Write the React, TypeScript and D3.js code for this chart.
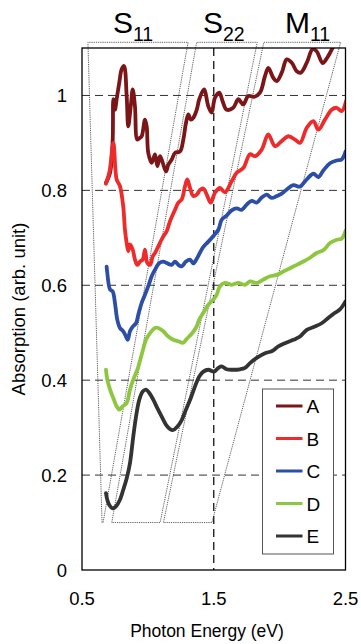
import React from "react";
import * as d3 from "d3";

const W = 361;
const H = 644;
const PLOT = { left: 82, right: 345.5, top: 48, bottom: 570 };

const xDomain: [number, number] = [0.5, 2.5];
const yDomain: [number, number] = [0, 1.1];
const xTicks = [0.5, 1.5, 2.5];
const yTicks = [0, 0.2, 0.4, 0.6, 0.8, 1];
const yGrid = [0.2, 0.4, 0.6, 0.8, 1.0];
const xGrid = [1.5];

const seriesNames = ["A", "B", "C", "D", "E"];
const seriesColors = ["#7b1518", "#ee2b2b", "#2c4ea6", "#8dc63f", "#333333"];

const seriesA: [number, number][] = [
  [0.682, 0.816], [0.713, 0.837], [0.733, 0.907], [0.738, 0.992], [0.75, 0.97],
  [0.763, 0.992], [0.783, 1.027], [0.801, 1.055], [0.819, 1.062], [0.839, 0.999],
  [0.851, 0.935], [0.87, 0.977], [0.885, 1.013], [0.902, 0.977], [0.92, 0.907],
  [0.94, 0.911], [0.953, 0.914], [0.978, 0.949], [0.991, 0.935], [1.003, 0.879],
  [1.029, 0.858], [1.054, 0.876], [1.072, 0.851], [1.092, 0.872], [1.113, 0.858],
  [1.138, 0.84], [1.155, 0.854], [1.181, 0.865], [1.206, 0.879], [1.244, 0.882],
  [1.269, 0.907], [1.289, 0.942], [1.307, 0.96], [1.325, 0.949], [1.345, 0.953],
  [1.371, 0.97], [1.39, 0.992], [1.426, 1.013], [1.459, 0.977], [1.484, 0.964],
  [1.509, 0.995], [1.542, 1.006], [1.568, 0.987], [1.598, 0.97], [1.648, 0.974],
  [1.686, 0.992], [1.724, 0.981], [1.762, 0.999], [1.806, 0.997], [1.851, 1.006],
  [1.889, 1.041], [1.914, 1.058], [1.952, 1.037], [1.978, 1.03], [2.016, 1.048],
  [2.054, 1.076], [2.092, 1.069], [2.13, 1.051], [2.16, 1.048], [2.206, 1.069],
  [2.251, 1.098], [2.281, 1.093], [2.327, 1.068], [2.362, 1.08], [2.403, 1.101],
  [2.443, 1.125],
];

const seriesB: [number, number][] = [
  [0.682, 0.814], [0.709, 0.84], [0.738, 0.9], [0.763, 0.823], [0.788, 0.809],
  [0.813, 0.766], [0.826, 0.717], [0.839, 0.689], [0.851, 0.672], [0.864, 0.686],
  [0.885, 0.675], [0.902, 0.654], [0.92, 0.643], [0.94, 0.65], [0.961, 0.654],
  [0.978, 0.675], [0.996, 0.647], [1.016, 0.643], [1.037, 0.661], [1.054, 0.668],
  [1.079, 0.682], [1.117, 0.703], [1.143, 0.714], [1.168, 0.735], [1.206, 0.759],
  [1.231, 0.774], [1.257, 0.781], [1.282, 0.809], [1.299, 0.823], [1.32, 0.805],
  [1.345, 0.788], [1.371, 0.791], [1.396, 0.801], [1.421, 0.804], [1.447, 0.791],
  [1.477, 0.774], [1.509, 0.795], [1.547, 0.805], [1.585, 0.796], [1.636, 0.819],
  [1.674, 0.837], [1.724, 0.847], [1.775, 0.876], [1.813, 0.872], [1.864, 0.886],
  [1.914, 0.918], [1.965, 0.893], [2.016, 0.904], [2.066, 0.914], [2.117, 0.907],
  [2.155, 0.9], [2.206, 0.932], [2.256, 0.946], [2.294, 0.928], [2.344, 0.949],
  [2.395, 0.97], [2.433, 0.974], [2.471, 0.967], [2.504, 0.988],
];

const seriesC: [number, number][] = [
  [0.687, 0.639], [0.692, 0.626], [0.713, 0.591], [0.733, 0.587], [0.75, 0.563],
  [0.768, 0.527], [0.788, 0.51], [0.813, 0.503], [0.834, 0.492], [0.847, 0.485],
  [0.864, 0.503], [0.885, 0.513], [0.91, 0.52], [0.927, 0.538], [0.953, 0.563],
  [0.978, 0.58], [1.003, 0.598], [1.029, 0.619], [1.054, 0.633], [1.087, 0.647],
  [1.117, 0.65], [1.143, 0.647], [1.181, 0.643], [1.206, 0.65], [1.231, 0.643],
  [1.257, 0.64], [1.289, 0.65], [1.32, 0.654], [1.345, 0.646], [1.371, 0.656],
  [1.396, 0.669], [1.421, 0.681], [1.459, 0.692], [1.497, 0.704], [1.535, 0.717],
  [1.56, 0.738], [1.598, 0.747], [1.636, 0.758], [1.674, 0.762], [1.712, 0.759],
  [1.75, 0.77], [1.788, 0.778], [1.826, 0.774], [1.864, 0.785], [1.902, 0.791],
  [1.94, 0.784], [1.978, 0.788], [2.016, 0.793], [2.054, 0.802], [2.104, 0.811],
  [2.155, 0.808], [2.193, 0.819], [2.256, 0.835], [2.294, 0.828], [2.332, 0.842],
  [2.382, 0.857], [2.433, 0.863], [2.471, 0.865], [2.501, 0.882],
];

const seriesD: [number, number][] = [
  [0.682, 0.422], [0.692, 0.401], [0.713, 0.38], [0.738, 0.362], [0.763, 0.345],
  [0.783, 0.338], [0.809, 0.345], [0.839, 0.352], [0.864, 0.38], [0.889, 0.401],
  [0.92, 0.422], [0.953, 0.454], [0.986, 0.485], [1.016, 0.499], [1.054, 0.51],
  [1.079, 0.51], [1.117, 0.503], [1.155, 0.492], [1.193, 0.485], [1.231, 0.482],
  [1.269, 0.479], [1.295, 0.487], [1.333, 0.498], [1.366, 0.511], [1.389, 0.527],
  [1.421, 0.542], [1.459, 0.559], [1.497, 0.57], [1.522, 0.58], [1.547, 0.598],
  [1.585, 0.605], [1.636, 0.601], [1.686, 0.605], [1.737, 0.601], [1.775, 0.608],
  [1.828, 0.605], [1.876, 0.612], [1.927, 0.619], [1.978, 0.622], [2.028, 0.629],
  [2.079, 0.636], [2.13, 0.643], [2.18, 0.65], [2.231, 0.658], [2.281, 0.668],
  [2.332, 0.674], [2.382, 0.689], [2.433, 0.696], [2.471, 0.698], [2.501, 0.715],
];

const seriesE: [number, number][] = [
  [0.682, 0.162], [0.692, 0.148], [0.707, 0.137], [0.733, 0.13], [0.758, 0.134],
  [0.788, 0.148], [0.813, 0.169], [0.839, 0.193], [0.864, 0.225], [0.889, 0.281],
  [0.91, 0.323], [0.935, 0.359], [0.961, 0.376], [0.986, 0.38], [1.011, 0.373],
  [1.041, 0.359], [1.072, 0.341], [1.105, 0.323], [1.138, 0.306], [1.168, 0.297],
  [1.193, 0.295], [1.223, 0.302], [1.257, 0.316], [1.289, 0.338], [1.325, 0.362],
  [1.358, 0.387], [1.39, 0.408], [1.421, 0.418], [1.459, 0.422], [1.502, 0.418],
  [1.535, 0.426], [1.56, 0.429], [1.598, 0.423], [1.648, 0.422], [1.699, 0.423],
  [1.737, 0.426], [1.775, 0.436], [1.826, 0.447], [1.889, 0.457], [1.94, 0.461],
  [1.99, 0.471], [2.041, 0.478], [2.104, 0.485], [2.155, 0.492], [2.206, 0.506],
  [2.268, 0.513], [2.319, 0.52], [2.369, 0.531], [2.42, 0.542], [2.458, 0.549],
  [2.5, 0.566],
];

const allSeries = [seriesA, seriesB, seriesC, seriesD, seriesE];

// transition brackets (energy ranges)
const bracketMain = ["S", "S", "M"];
const bracketSub = ["11", "22", "11"];
const bracketLabelX = [0.735, 1.418, 2.04];
const bracketTop: [number, number][] = [[0.545, 1.305], [1.37, 1.83], [1.88, 2.463]];
const bracketBottom: [number, number][] = [[0.652, 0.66], [0.726, 1.093], [1.118, 1.486]];
const bracketTopY = 1.112;
const bracketBottomY = 0.1;

const FONT = "'Liberation Sans', Arial, Helvetica, sans-serif";

export default function App() {
  const x = d3.scaleLinear().domain(xDomain).range([PLOT.left, PLOT.right]);
  const y = d3.scaleLinear().domain(yDomain).range([PLOT.bottom, PLOT.top]);
  const line = d3
    .line<[number, number]>()
    .x((d) => x(d[0]))
    .y((d) => y(d[1]))
    .curve(d3.curveCatmullRom.alpha(0.5));

  const legendX = 262.5;
  const legendY = 389;
  const legendW = 71;
  const legendH = 165;
  const legendStep = 32.5;

  return (
    <svg
      width={W}
      height={H}
      viewBox={`0 0 ${W} ${H}`}
      style={{ position: "absolute", left: 0, top: 0, background: "#fff" }}
      fontFamily={FONT}
    >
      <defs>
        <clipPath id="plotClip">
          <rect x={PLOT.left} y={PLOT.top} width={PLOT.right - PLOT.left} height={PLOT.bottom - PLOT.top} />
        </clipPath>
      </defs>
      <rect x={0} y={0} width={W} height={H} fill="#fff" />

      {/* grid */}
      {yGrid.map((v) => (
        <line key={"gy" + v} x1={PLOT.left} x2={PLOT.right} y1={y(v)} y2={y(v)} stroke="#333" strokeWidth={1} strokeDasharray="8,5" />
      ))}
      {xGrid.map((v) => (
        <line key={"gx" + v} x1={x(v)} x2={x(v)} y1={PLOT.top} y2={PLOT.bottom} stroke="#111" strokeWidth={1.3} strokeDasharray="8,5" />
      ))}

      {/* brackets */}
      {bracketTop.map((t, i) => {
        const b = bracketBottom[i];
        const d = `M${x(b[0])},${y(bracketBottomY)} L${x(t[0])},${y(bracketTopY)} L${x(t[1])},${y(bracketTopY)} L${x(b[1])},${y(bracketBottomY)} Z`;
        return <path key={"br" + i} d={d} fill="none" stroke="#333" strokeWidth={0.8} strokeDasharray="1.2,1" />;
      })}
      {bracketMain.map((m, i) => (
        <text key={"bl" + i} x={x(bracketLabelX[i])} y={33} textAnchor="start" fontSize={30} fill="#000">
          {m}
          <tspan fontSize={19.5} dy={8}>{bracketSub[i]}</tspan>
        </text>
      ))}

      {/* series */}
      <g clipPath="url(#plotClip)">
        {allSeries.map((s, i) => (
          <path key={"s" + i} d={line(s) || ""} fill="none" stroke={seriesColors[i]} strokeWidth={3.8} strokeLinejoin="round" strokeLinecap="round" />
        ))}
      </g>

      {/* frame */}
      <rect x={PLOT.left} y={PLOT.top} width={PLOT.right - PLOT.left} height={PLOT.bottom - PLOT.top} fill="none" stroke="#000" strokeWidth={1.3} />

      {/* y ticks */}
      {yTicks.map((v) => (
        <text key={"yt" + v} x={67} y={y(v) + 6.5} textAnchor="end" fontSize={18.5} fill="#000">
          {d3.format("~g")(v)}
        </text>
      ))}
      {/* x ticks */}
      {xTicks.map((v) => (
        <text key={"xt" + v} x={x(v)} y={605} textAnchor="middle" fontSize={18.5} fill="#000">
          {d3.format(".1f")(v)}
        </text>
      ))}

      <text x={207} y={637} textAnchor="middle" fontSize={17.5} fill="#000">
        Photon Energy (eV)
      </text>
      <text transform={`translate(25,${(PLOT.top + PLOT.bottom) / 2}) rotate(-90)`} textAnchor="middle" fontSize={18.5} fill="#000">
        Absorption (arb. unit)
      </text>

      {/* legend */}
      <rect x={legendX} y={legendY} width={legendW} height={legendH} fill="#fff" stroke="#555" strokeWidth={1} />
      {seriesNames.map((n, i) => {
        const ly = legendY + 17 + i * legendStep;
        return (
          <g key={"lg" + n}>
            <line x1={276} x2={302.5} y1={ly} y2={ly} stroke={seriesColors[i]} strokeWidth={3} />
            <text x={306.5} y={ly + 7} fontSize={19} fill="#000">
              {n}
            </text>
          </g>
        );
      })}
    </svg>
  );
}
